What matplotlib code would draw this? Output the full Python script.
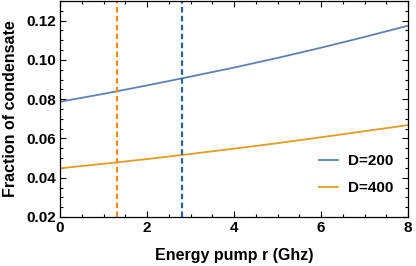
import numpy as np
import matplotlib
matplotlib.use("Agg")
import matplotlib.pyplot as plt

# values
r = [0, 1, 2, 3, 4, 5, 6, 7, 8]
frac_d200 = [0.0787, 0.0827, 0.0870, 0.0915, 0.0961, 0.1010, 0.1062, 0.1117, 0.1174]
frac_d400 = [0.0448, 0.0471, 0.0495, 0.0521, 0.0548, 0.0576, 0.0606, 0.0637, 0.0668]
labels = ["D=200", "D=400"]
r_cut_d200 = 2.81
r_cut_d400 = 1.32

plt.rcParams['font.family'] = ['Liberation Sans', 'DejaVu Sans']
plt.rcParams['font.weight'] = 'bold'

fig = plt.figure(figsize=(4.16, 2.66), dpi=100)
ax = fig.add_axes([60/416, 49/266, 348/416, 216/266])

ax.plot(r, frac_d200, color='#5E81B5', lw=1.3, label=labels[0])
ax.plot(r, frac_d400, color='#E19C24', lw=1.3, label=labels[1])
ax.axvline(r_cut_d400, color='#FF8C1A', lw=1.6, ls=(0, (2.5, 1.5)))
ax.axvline(r_cut_d200, color='#2A62A6', lw=1.6, ls=(0, (2.5, 1.5)))

ax.set_xlim(0, 8)
ax.set_ylim(0.02, 0.13)
ax.set_xticks([0, 2, 4, 6, 8])
ax.set_xticks(np.arange(0, 8.01, 0.5), minor=True)
ax.set_yticks([0.02, 0.04, 0.06, 0.08, 0.10, 0.12])
ax.set_yticks(np.arange(0.02, 0.1301, 0.005), minor=True)
ax.set_yticklabels(["0.02", "0.04", "0.06", "0.08", "0.10", "0.12"])
ax.tick_params(which='both', direction='in', top=True, right=True,
               labelsize=11, color='black', width=0.8)
ax.tick_params(which='major', length=4, pad=3)
ax.tick_params(which='minor', length=2.5)
for s in ax.spines.values():
    s.set_linewidth(0.9)

ax.set_xlabel("Energy pump r (Ghz)", fontsize=11.5, fontweight='bold', labelpad=9)
ax.set_ylabel("Fraction of condensate", fontsize=11.5, fontweight='bold', labelpad=6)

ax.legend(loc='lower right', bbox_to_anchor=(0.957, 0.10), frameon=False,
          fontsize=11, handlelength=1.3, handletextpad=0.6, labelspacing=0.85,
          borderpad=0, borderaxespad=0)

fig.savefig("out.png", dpi=100)
